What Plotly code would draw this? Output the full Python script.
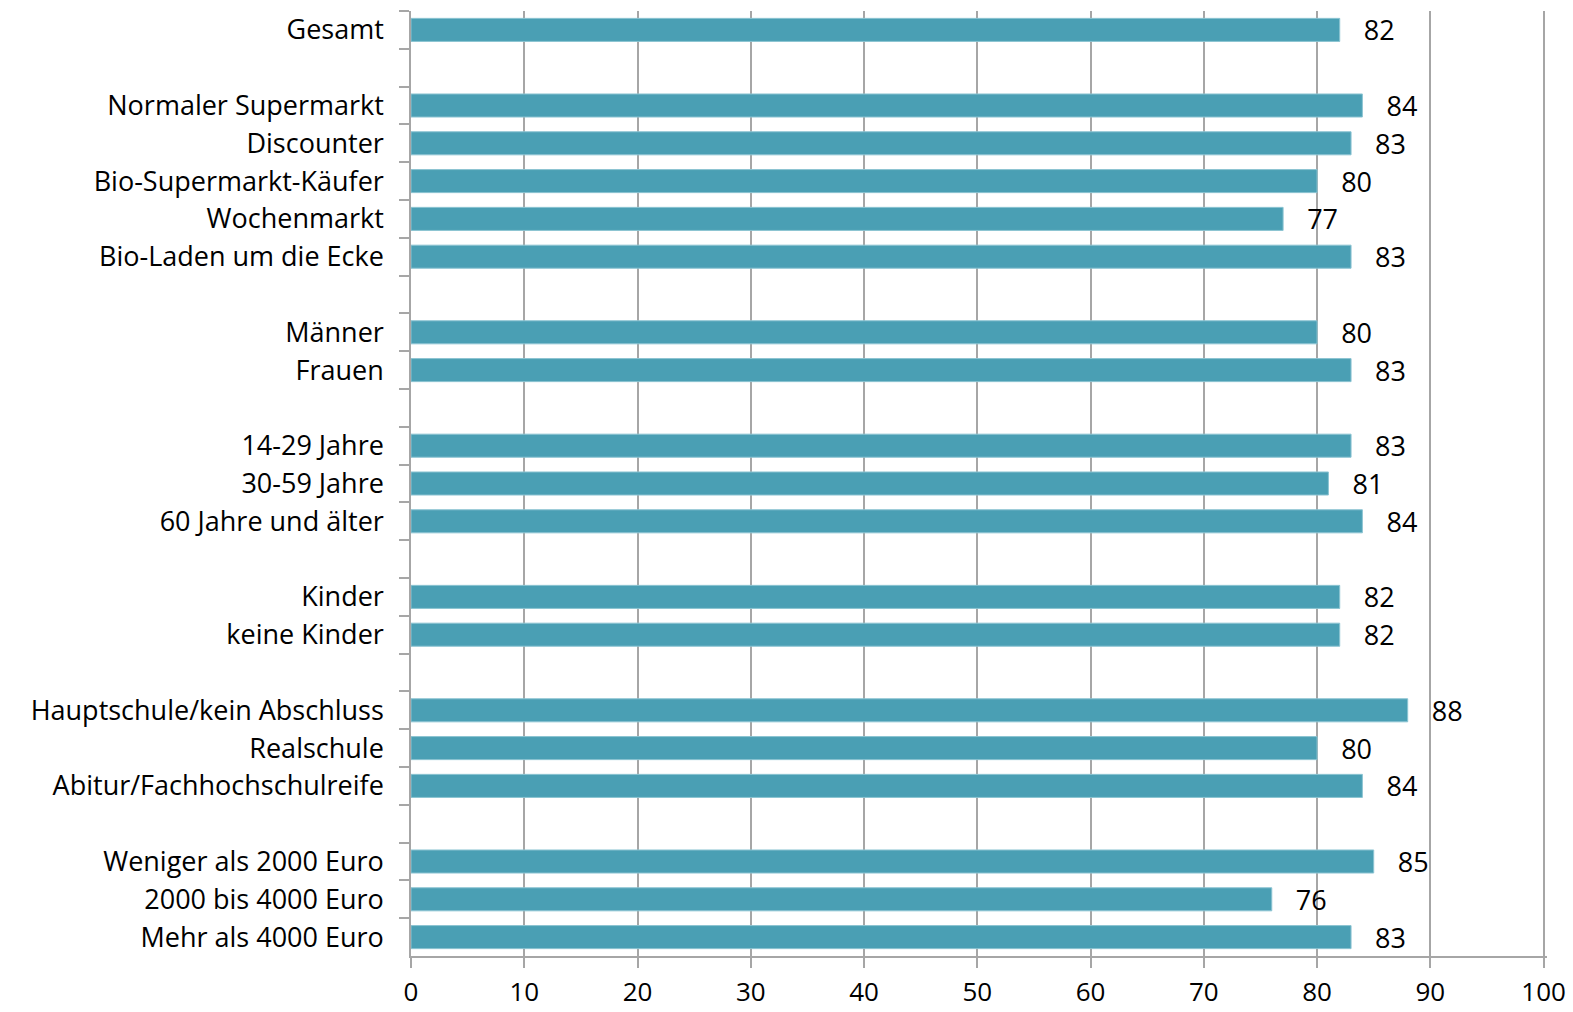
import plotly.graph_objects as go

# Groups separated by blank rows (unique whitespace keys keep the gaps as own categories)
categories = [
    "Gesamt", " ",
    "Normaler Supermarkt", "Discounter", "Bio-Supermarkt-Käufer", "Wochenmarkt", "Bio-Laden um die Ecke", "  ",
    "Männer", "Frauen", "   ",
    "14-29 Jahre", "30-59 Jahre", "60 Jahre und älter", "    ",
    "Kinder", "keine Kinder", "     ",
    "Hauptschule/kein Abschluss", "Realschule", "Abitur/Fachhochschulreife", "      ",
    "Weniger als 2000 Euro", "2000 bis 4000 Euro", "Mehr als 4000 Euro",
]
values = [
    82, None,
    84, 83, 80, 77, 83, None,
    80, 83, None,
    83, 81, 84, None,
    82, 82, None,
    88, 80, 84, None,
    85, 76, 83,
]
x_ticks = [0, 10, 20, 30, 40, 50, 60, 70, 80, 90, 100]

FONT = "Open Sans"
FSIZE = 27
GRID = "#A6A6A6"
BAR = "#4A9FB4"

fig = go.Figure(
    go.Bar(
        x=values,
        y=categories,
        orientation="h",
        marker=dict(color=BAR, line=dict(color="#8CC4D2", width=1)),
        text=[("" if v is None else str(v)) for v in values],
        texttemplate="   %{text}",
        textposition="outside",
        constraintext="none",
        textfont=dict(family=FONT, size=FSIZE, color="black"),
        cliponaxis=False,
        hoverinfo="skip",
    )
)

fig.update_layout(
    width=1573,
    height=1012,
    margin=dict(l=411, r=26, t=11, b=56, autoexpand=False),
    paper_bgcolor="white",
    plot_bgcolor="white",
    showlegend=False,
    bargap=0.39,
    font=dict(family=FONT, size=FSIZE, color="black"),
)

fig.update_xaxes(
    # a small overshoot past 100 keeps the last grid line visible
    range=[0, 100.3],
    tickvals=x_ticks,
    ticktext=[str(t) for t in x_ticks],
    showgrid=True,
    gridcolor=GRID,
    gridwidth=1.5,
    showline=True,
    linecolor=GRID,
    linewidth=1.5,
    ticks="outside",
    ticklen=10,
    tickcolor=GRID,
    tickwidth=1.5,
    ticklabelstandoff=2,
    zeroline=False,
    automargin=False,
    tickfont=dict(family=FONT, size=26, color="black"),
)

fig.update_yaxes(
    type="category",
    categoryorder="array",
    categoryarray=categories,
    autorange="reversed",
    tickson="boundaries",
    showgrid=False,
    showline=True,
    linecolor=GRID,
    linewidth=1.5,
    ticks="outside",
    ticklen=10,
    tickcolor=GRID,
    tickwidth=1.5,
    ticklabelstandoff=20,
    automargin=False,
    tickfont=dict(family=FONT, size=FSIZE, color="black"),
)

fig.write_html("out.html")
